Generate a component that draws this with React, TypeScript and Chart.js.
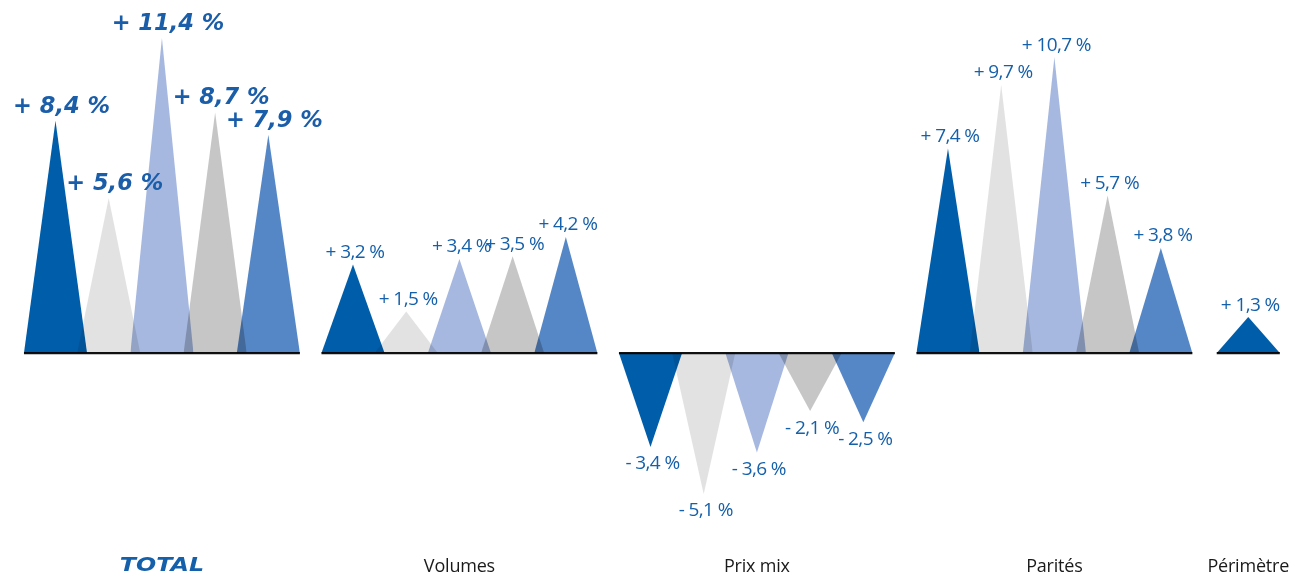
import React, { useEffect, useRef } from "react";
import { Chart, registerables } from "chart.js";

Chart.register(...registerables);

const categories = ["TOTAL", "Volumes", "Prix mix", "Parités", "Périmètre"];
const totalValues = [8.4, 5.6, 11.4, 8.7, 7.9];
const volumesValues = [3.2, 1.5, 3.4, 3.5, 4.2];
const prixMixValues = [-3.4, -5.1, -3.6, -2.1, -2.5];
const paritesValues = [7.4, 9.7, 10.7, 5.7, 3.8];
const perimetreValues = [1.3];
const groupValues = [totalValues, volumesValues, prixMixValues, paritesValues, perimetreValues];

const triangleColors = ["#005DAA", "#E2E2E2", "#A6B8E0", "#C6C6C6", "#5587C7"];

// layout constants (in x-axis units)
const W = 1291;
const H = 577;
const FIRST_CENTER = 54.5;
const GROUP_GAP = 298;
const STEP = 53.3;
const HALF = 31.6;
const PX_PER_PCT = 27.75;
const BASE_PX = 353.3;

function groupStart(g: number) {
  return FIRST_CENTER + GROUP_GAP * g + (g === 4 ? 2.8 : 0);
}

function fmt(v: number) {
  const s = Math.abs(v).toFixed(1).replace(".", ",");
  return (v >= 0 ? "+ " : "- ") + s + " %";
}

export default function App() {
  const ref = useRef<HTMLCanvasElement | null>(null);

  useEffect(() => {
    const canvas = ref.current;
    if (!canvas) return;

    const datasets: any[] = [];
    // baselines
    groupValues.forEach((vals, g) => {
      const s = groupStart(g);
      datasets.push({
        data: [
          { x: s - HALF, y: 0 },
          { x: s + STEP * (vals.length - 1) + HALF, y: 0 },
        ],
        borderColor: "#111111",
        borderWidth: 2.2,
        pointRadius: 0,
        fill: false,
      });
    });
    // triangles
    groupValues.forEach((vals, g) => {
      const s = groupStart(g);
      vals.forEach((v, i) => {
        const c = s + STEP * i;
        datasets.push({
          data: [
            { x: c - HALF, y: 0 },
            { x: c, y: v },
            { x: c + HALF, y: 0 },
          ],
          backgroundColor: triangleColors[i],
          borderWidth: 0,
          borderColor: "rgba(0,0,0,0)",
          pointRadius: 0,
          tension: 0,
          fill: "origin",
        });
      });
    });

    const bgPlugin = {
      id: "bg",
      beforeDraw(chart: any) {
        const ctx = chart.ctx;
        ctx.save();
        ctx.fillStyle = "#ffffff";
        ctx.fillRect(0, 0, chart.width, chart.height);
        ctx.restore();
      },
      beforeDatasetsDraw(chart: any) {
        chart.ctx.globalCompositeOperation = "multiply";
      },
      afterDatasetsDraw(chart: any) {
        chart.ctx.globalCompositeOperation = "source-over";
      },
    };

    const labelPlugin = {
      id: "labels",
      afterDraw(chart: any) {
        const ctx = chart.ctx;
        const xs = chart.scales.x;
        const ys = chart.scales.y;
        ctx.save();
        ctx.textAlign = "center";
        ctx.textBaseline = "middle";
        groupValues.forEach((vals, g) => {
          const s = groupStart(g);
          vals.forEach((v, i) => {
            const px = xs.getPixelForValue(s + STEP * i);
            const py = ys.getPixelForValue(v);
            if (g === 0) {
              ctx.font = "italic bold 22.5px 'DejaVu Sans'";
              (ctx as any).letterSpacing = "0px";
              ctx.fillStyle = "#1A5DA9";
              ctx.fillText(fmt(v), px + 6, py - 14);
            } else {
              ctx.font = "19px 'Open Sans'";
              (ctx as any).letterSpacing = "-0.6px";
              ctx.fillStyle = "#1560AA";
              ctx.fillText(fmt(v), px + 2, v >= 0 ? py - 12 : py + 17);
            }
          });
          // category label
          const center = s + (STEP * (vals.length - 1)) / 2;
          const cx = xs.getPixelForValue(center);
          const cy = chart.chartArea.bottom - 10;
          if (g === 0) {
            ctx.save();
            ctx.font = "italic bold 19px 'DejaVu Sans'";
            (ctx as any).letterSpacing = "0px";
            ctx.fillStyle = "#1560AA";
            ctx.translate(cx, cy);
            ctx.scale(1.25, 1);
            ctx.fillText(categories[g], 0, 0);
            ctx.restore();
          } else {
            ctx.font = "18px 'Open Sans'";
            (ctx as any).letterSpacing = "-0.2px";
            ctx.fillStyle = "#1a1a1a";
            ctx.fillText(categories[g], cx, cy + 1);
          }
          (ctx as any).letterSpacing = "0px";
        });
        ctx.restore();
      },
    };

    const chart = new Chart(canvas, {
      type: "line",
      data: { datasets },
      options: {
        animation: false,
        responsive: false,
        devicePixelRatio: 1,
        layout: { padding: 0 },
        plugins: { legend: { display: false }, tooltip: { enabled: false } },
        elements: { line: { tension: 0 } },
        scales: {
          x: { type: "linear", min: 0, max: W, display: false },
          y: {
            type: "linear",
            min: -(H - BASE_PX) / PX_PER_PCT,
            max: BASE_PX / PX_PER_PCT,
            display: false,
          },
        },
      },
      plugins: [bgPlugin, labelPlugin],
    });

    if ((document as any).fonts && (document as any).fonts.ready) {
      (document as any).fonts.ready.then(() => chart.update());
    }

    return () => chart.destroy();
  }, []);

  return (
    <div style={{ position: "absolute", left: 0, top: 0, width: W, height: H, background: "#fff" }}>
      <canvas ref={ref} width={W} height={H} style={{ width: W, height: H, display: "block" }} />
    </div>
  );
}
